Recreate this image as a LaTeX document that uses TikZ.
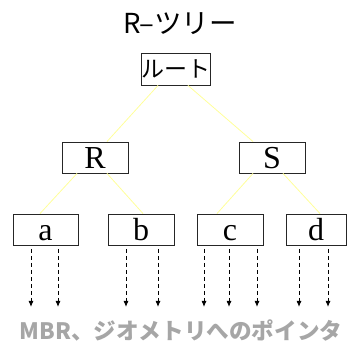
\documentclass[tikz,border=0pt]{standalone}
\usepackage{fontspec}
\setmainfont{Liberation Serif}
\newfontfamily\jp{Noto Sans CJK JP}
\usetikzlibrary{arrows.meta}
\definecolor{linkyellow}{HTML}{FFFF99}
\definecolor{capgray}{HTML}{A6A6A6}
\begin{document}
\begin{tikzpicture}[x=1pt,y=-1pt,
  box/.style={draw=black!85,line width=0.9pt,rectangle,inner sep=0pt,minimum width=66pt,text height=26.5pt,text depth=4.5pt,font=\fontsize{32}{32}\selectfont},
  link/.style={draw=linkyellow,line width=0.8pt},
  ptr/.style={draw=black,line width=0.9pt,dash pattern=on 4pt off 3pt,-{Latex[length=6pt,width=5pt]}}]
\useasboundingbox (0,0) rectangle (346,352);
\node (title) at (180,24) {\jp\fontsize{27.5}{27.5}\selectfont R–ツリー};
\node[draw=black!85,line width=0.9pt,inner sep=0pt,minimum width=66pt,minimum height=32pt,font=\jp\fontsize{23}{23}\selectfont] (root) at (176,69) {ルート};
\node[box] (R) at (95,157.5) {R};
\node[box] (S) at (272,157.5) {S};
\node[box,minimum width=65pt] (a) at (45.5,229.5) {a};
\node[box] (b) at (141,229.5) {b};
\node[box] (c) at (230,229.5) {c};
\node[box,minimum width=60pt] (d) at (316,229.5) {d};
\draw[link] ([xshift=-18pt]root.south) -- ([xshift=12pt]R.north);
\draw[link] ([xshift=12pt]root.south) -- ([xshift=-19pt]S.north);
\draw[link] ([xshift=-18pt]R.south) -- ([xshift=-5.5pt]a.north);
\draw[link] ([xshift=12pt]R.south) -- ([xshift=2pt]b.north);
\draw[link] ([xshift=-19pt]S.south) -- ([xshift=-13pt]c.north);
\draw[link] ([xshift=11pt]S.south) -- ([xshift=4pt]d.north);
\foreach \n/\o in {a/-14.5,a/12.5,b/-15,b/17,c/-26,c/-1,c/27,d/-17,d/12}
  \draw[ptr] ([xshift=\o pt,yshift=-3.5pt]\n.south) -- ++(0,58);
\node[text=capgray,font=\jp\bfseries\fontsize{22.6}{22.6}\selectfont] (cap) at (181,330) {MBR、ジオメトリへのポインタ};
\end{tikzpicture}
\end{document}
